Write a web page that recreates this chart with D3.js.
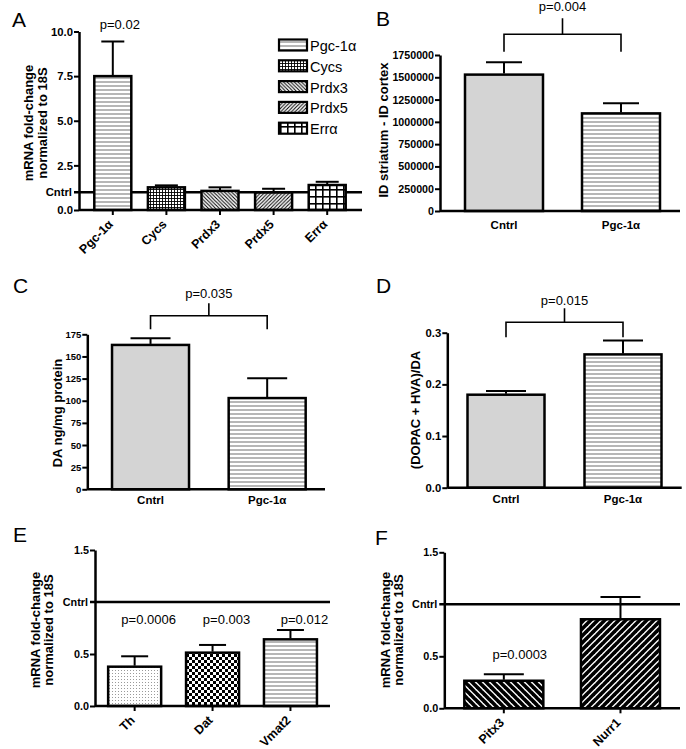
<!DOCTYPE html>
<html><head><meta charset="utf-8">
<script src="https://cdn.jsdelivr.net/npm/d3@7"></script>
<style>
body{margin:0;background:#fff}
svg{display:block}
text{font-family:"Liberation Sans",Arial,Helvetica,sans-serif;fill:#000}
</style>
</head><body>
<svg id="c" width="686" height="749"></svg>
<script>
// ---------------- DATA ----------------
// Panel A
const aCategories = ["Pgc-1α", "Cycs", "Prdx3", "Prdx5", "Errα"];
const aMeans = [7.5, 1.27, 1.07, 0.98, 1.40];
const aErrors = [1.94, 0.11, 0.20, 0.21, 0.18];
const aTicks = [0, 2.5, 5, 7.5, 10];
const aPValues = ["p=0.02", "", "", "", ""];
// Panel B
const bCategories = ["Cntrl", "Pgc-1α"];
const bMeans = [1530000, 1095000];
const bErrors = [140000, 113000];
const bTicks = [0, 250000, 500000, 750000, 1000000, 1250000, 1500000, 1750000];
const bPValue = "p=0.004";
// Panel C
const cCategories = ["Cntrl", "Pgc-1α"];
const cMeans = [163, 103];
const cErrors = [7.5, 22.5];
const cTicks = [0, 25, 50, 75, 100, 125, 150, 175];
const cPValue = "p=0.035";
// Panel D
const dCategories = ["Cntrl", "Pgc-1α"];
const dMeans = [0.180, 0.258];
const dErrors = [0.007, 0.027];
const dTicks = [0, 0.1, 0.2, 0.3];
const dPValue = "p=0.015";
// Panel E
const eCategories = ["Th", "Dat", "Vmat2"];
const eMeans = [0.378, 0.513, 0.641];
const eErrors = [0.100, 0.074, 0.090];
const eTicks = [0, 0.5, 1.5];
const ePValues = ["p=0.0006", "p=0.003", "p=0.012"];
// Panel F
const fCategories = ["Pitx3", "Nurr1"];
const fMeans = [0.265, 0.856];
const fErrors = [0.062, 0.214];
const fTicks = [0, 0.5, 1.5];
const fPValues = ["p=0.0003", ""];

const yTitleA = ["mRNA fold-change", "normalized to 18S"];

// ---------------- PATTERNS ----------------
const svg = d3.select("#c");
const defs = svg.append("defs");

function pat(id, w, h, build) {
  const p = defs.append("pattern").attr("id", id).attr("patternUnits", "userSpaceOnUse")
    .attr("width", w).attr("height", h);
  build(p);
}
pat("hl", 4, 4, p => {
  p.append("rect").attr("width", 4).attr("height", 4).attr("fill", "#fff");
  p.append("rect").attr("x", 0).attr("y", 1.5).attr("width", 4).attr("height", 1).attr("fill", "#6e6e6e");
});
pat("gridS", 3, 3, p => {
  p.append("rect").attr("width", 3).attr("height", 3).attr("fill", "#fff");
  p.append("rect").attr("x", 0).attr("y", 0).attr("width", 3).attr("height", 0.9).attr("fill", "#000");
  p.append("rect").attr("x", 0).attr("y", 0).attr("width", 0.9).attr("height", 3).attr("fill", "#000");
});
pat("gridL", 7, 7, p => {
  p.append("rect").attr("width", 7).attr("height", 7).attr("fill", "#fff");
  p.append("rect").attr("x", 0).attr("y", 0).attr("width", 7).attr("height", 1.6).attr("fill", "#000");
  p.append("rect").attr("x", 0).attr("y", 0).attr("width", 1.6).attr("height", 7).attr("fill", "#000");
});
function diag(id, size, sw, dir, color, bg) {
  pat(id, size, size, p => {
    p.append("rect").attr("width", size).attr("height", size).attr("fill", bg);
    const s = size;
    const segs = dir > 0
      ? [[0, s, s, 0], [-s, s, s, -s], [0, 2 * s, 2 * s, 0]] // "/"
      : [[0, 0, s, s], [-s, 0, s, 2 * s], [0, -s, 2 * s, s]]; // "\"
    segs.forEach(d => p.append("line").attr("x1", d[0]).attr("y1", d[1]).attr("x2", d[2]).attr("y2", d[3])
      .attr("stroke", color).attr("stroke-width", sw));
  });
}
diag("bs", 3.6, 1.0, -1, "#000", "#fff");
diag("fs", 3.6, 1.0, 1, "#000", "#fff");
diag("thickBs", 7, 3.6, -1, "#000", "#fff");
diag("thickFs", 7, 3.6, 1, "#000", "#fff");
pat("dots", 3, 3, p => {
  p.append("rect").attr("width", 3).attr("height", 3).attr("fill", "#fff");
  p.append("rect").attr("x", 1).attr("y", 1).attr("width", 1).attr("height", 1).attr("fill", "#9a9a9a");
});
pat("checker", 6, 6, p => {
  p.append("rect").attr("width", 6).attr("height", 6).attr("fill", "#fff");
  p.append("rect").attr("x", 0).attr("y", 0).attr("width", 3).attr("height", 3).attr("fill", "#000");
  p.append("rect").attr("x", 3).attr("y", 3).attr("width", 3).attr("height", 3).attr("fill", "#000");
});
defs.append("pattern").attr("id", "grey").attr("patternUnits", "userSpaceOnUse").attr("width", 4).attr("height", 4)
  .append("rect").attr("width", 4).attr("height", 4).attr("fill", "#d4d4d4");

// ---------------- PANEL DRAWER ----------------
function panel(o) {
  const g = svg.append("g");
  const y = d3.scaleLinear().domain([0, o.max]).range([o.yBottom, o.yTop]);
  const x = d3.scalePoint().domain(o.cats).range(o.xRange).padding(0.5);
  const tfs = (o.tickFs || 11) + "px";

  // control line
  if (o.cntrl) {
    g.append("line").attr("x1", o.axisX - 5).attr("x2", o.xEnd).attr("y1", y(1)).attr("y2", y(1))
      .attr("stroke", "#000").attr("stroke-width", 2.5);
    g.append("text").attr("x", o.axisX - 7).attr("y", y(1)).attr("dy", "0.35em")
      .attr("text-anchor", "end").style("font-weight", "bold").style("font-size", tfs).text("Cntrl");
  }

  // bars
  g.selectAll("rect.bar").data(o.cats).enter().append("rect").attr("class", "bar")
    .attr("x", d => x(d) - o.barW / 2).attr("width", o.barW)
    .attr("y", (d, i) => y(o.means[i])).attr("height", (d, i) => o.yBottom - y(o.means[i]))
    .attr("fill", (d, i) => `url(#${o.fills[i]})`).attr("stroke", "#000").attr("stroke-width", 2.5);

  // error bars
  o.cats.forEach((c, i) => {
    const top = y(o.means[i] + o.errs[i]);
    g.append("line").attr("x1", x(c)).attr("x2", x(c)).attr("y1", y(o.means[i]) - 1).attr("y2", top)
      .attr("stroke", "#000").attr("stroke-width", 2);
    g.append("line").attr("x1", x(c) - o.capW / 2).attr("x2", x(c) + o.capW / 2).attr("y1", top).attr("y2", top)
      .attr("stroke", "#000").attr("stroke-width", 2);
  });

  // y axis
  const ax = g.append("g").attr("transform", `translate(${o.axisX},0)`)
    .call(d3.axisLeft(y).tickValues(o.ticks).tickSize(5).tickSizeOuter(0).tickFormat(o.fmt));
  ax.select(".domain").attr("stroke", "#000").attr("stroke-width", 2.5);
  ax.selectAll(".tick line").attr("stroke", "#000").attr("stroke-width", 2);
  ax.selectAll(".tick text").attr("x", -6).style("font-weight", "bold").style("font-size", tfs)
    .style("font-family", "'Liberation Sans',Arial,sans-serif").attr("fill", "#000");

  // x axis line
  g.append("line").attr("x1", o.axisX).attr("x2", o.xEnd).attr("y1", o.yBottom).attr("y2", o.yBottom)
    .attr("stroke", "#000").attr("stroke-width", 2.5);

  // x labels
  if (o.rotate) {
    o.cats.forEach(c => {
      g.append("line").attr("x1", x(c)).attr("x2", x(c)).attr("y1", o.yBottom).attr("y2", o.yBottom + 5)
        .attr("stroke", "#000").attr("stroke-width", 2);
      g.append("text").attr("transform", `translate(${x(c) + 1},${o.yBottom + 15}) rotate(-45)`)
        .attr("text-anchor", "end").style("font-weight", "bold").style("font-size", "12.5px").text(c);
    });
  } else {
    o.cats.forEach(c => {
      g.append("text").attr("x", x(c)).attr("y", o.yBottom + o.labelDy).attr("text-anchor", "middle")
        .style("font-weight", "bold").style("font-size", "11.5px").text(c);
    });
  }

  // y title
  o.ytitle.forEach((t, i) => {
    g.append("text").attr("transform", `translate(${o.ytitleX[i]},${o.ytitleY}) rotate(-90)`)
      .attr("text-anchor", "middle").style("font-weight", "bold").style("font-size", "13px").text(t);
  });

  // panel letter
  g.append("text").attr("x", o.letterX).attr("y", o.letterY).style("font-size", "21px").text(o.letter);

  // p values over bars
  if (o.pvals) {
    o.cats.forEach((c, i) => {
      if (!o.pvals[i]) return;
      g.append("text").attr("x", x(c) + o.pDx).attr("y", o.pY).attr("text-anchor", "middle")
        .style("font-size", "13px").text(o.pvals[i]);
    });
  }

  // bracket
  if (o.bracket) {
    const b = o.bracket, x1 = x(o.cats[0]), x2 = x(o.cats[1]), xm = (x1 + x2) / 2 + (b.dx || 0);
    g.append("path").attr("d", `M${x1},${b.leg}V${b.y}H${x2}V${b.leg}M${xm},${b.y}V${b.tick}`)
      .attr("fill", "none").attr("stroke", "#000").attr("stroke-width", 1.6);
    g.append("text").attr("x", xm).attr("y", b.textY).attr("text-anchor", "middle")
      .style("font-size", "13px").text(b.text);
  }
}

const f1 = d3.format(".1f"), fd = d3.format("d");

// A
panel({
  cats: aCategories, means: aMeans, errs: aErrors, ticks: aTicks, fmt: f1, max: 10, tickFs: 11.3,
  fills: ["hl", "gridS", "bs", "fs", "gridL"],
  axisX: 79, yBottom: 210, yTop: 31.5, xEnd: 362, xRange: [86, 354], barW: 37, capW: 23,
  rotate: true, cntrl: true, ytitle: yTitleA, ytitleX: [32.5, 46.5], ytitleY: 123,
  letter: "A", letterX: 12, letterY: 27, pvals: aPValues, pDx: 7, pY: 29
});
// legend for A
const legend = svg.append("g");
aCategories.forEach((c, i) => {
  const ly = 39.5 + i * 20.8;
  legend.append("rect").attr("x", 279).attr("y", ly).attr("width", 28).attr("height", 11)
    .attr("fill", `url(#${["hl", "gridS", "bs", "fs", "gridL"][i]})`).attr("stroke", "#000").attr("stroke-width", 2.2);
  legend.append("text").attr("x", 310).attr("y", ly + 11.5).style("font-size", "14.5px").text(c);
});

// B
panel({
  cats: bCategories, means: bMeans, errs: bErrors, ticks: bTicks, fmt: fd, max: 1750000, tickFs: 10.7,
  fills: ["grey", "hl"],
  axisX: 440, yBottom: 211, yTop: 55, xEnd: 680, xRange: [445.5, 679.5], barW: 78, capW: 36,
  rotate: false, labelDy: 18, cntrl: false, ytitle: ["ID striatum - ID cortex"], ytitleX: [387.5], ytitleY: 130,
  letter: "B", letterX: 376, letterY: 26,
  bracket: { y: 34.3, leg: 51.7, tick: 18.3, textY: 10.5, text: bPValue }
});
// C
panel({
  cats: cCategories, means: cMeans, errs: cErrors, ticks: cTicks, fmt: fd, max: 175, tickFs: 9.5,
  fills: ["grey", "hl"],
  axisX: 87.3, yBottom: 489.3, yTop: 334.3, xEnd: 325, xRange: [92.2, 325.5], barW: 77, capW: 40,
  rotate: false, labelDy: 15, cntrl: false, ytitle: ["DA ng/mg protein"], ytitleX: [61.5], ytitleY: 413,
  letter: "C", letterX: 13, letterY: 293,
  bracket: { y: 315.7, leg: 329.3, tick: 303.3, textY: 297.5, text: cPValue }
});
// D
panel({
  cats: dCategories, means: dMeans, errs: dErrors, ticks: dTicks, fmt: f1, max: 0.3, tickFs: 11.3,
  fills: ["grey", "hl"],
  axisX: 447.3, yBottom: 487.7, yTop: 332.7, xEnd: 681.7, xRange: [447.5, 681.5], barW: 77, capW: 40,
  rotate: false, labelDy: 15, cntrl: false, ytitle: ["(DOPAC + HVA)/DA"], ytitleX: [419.5], ytitleY: 410,
  letter: "D", letterX: 376, letterY: 293,
  bracket: { y: 322.3, leg: 337.3, tick: 308.3, textY: 304.5, text: dPValue }
});
// E
panel({
  cats: eCategories, means: eMeans, errs: eErrors, ticks: eTicks, fmt: f1, max: 1.5, tickFs: 10.8,
  fills: ["dots", "checker", "hl"],
  axisX: 95, yBottom: 706, yTop: 550, xEnd: 330, xRange: [95.7, 329.4], barW: 53, capW: 27,
  rotate: true, cntrl: true, ytitle: yTitleA, ytitleX: [39.5, 52.5], ytitleY: 630,
  letter: "E", letterX: 13, letterY: 542, pvals: ePValues, pDx: 14, pY: 624
});
// F
panel({
  cats: fCategories, means: fMeans, errs: fErrors, ticks: fTicks, fmt: f1, max: 1.5, tickFs: 10.8,
  fills: ["thickBs", "thickFs"],
  axisX: 444.3, yBottom: 708.3, yTop: 552.3, xEnd: 680, xRange: [445.5, 678.8], barW: 79, capW: 40,
  rotate: true, cntrl: true, ytitle: yTitleA, ytitleX: [389.5, 403], ytitleY: 630,
  letter: "F", letterX: 375, letterY: 545, pvals: fPValues, pDx: 16, pY: 658.5
});
</script>
</body></html>
